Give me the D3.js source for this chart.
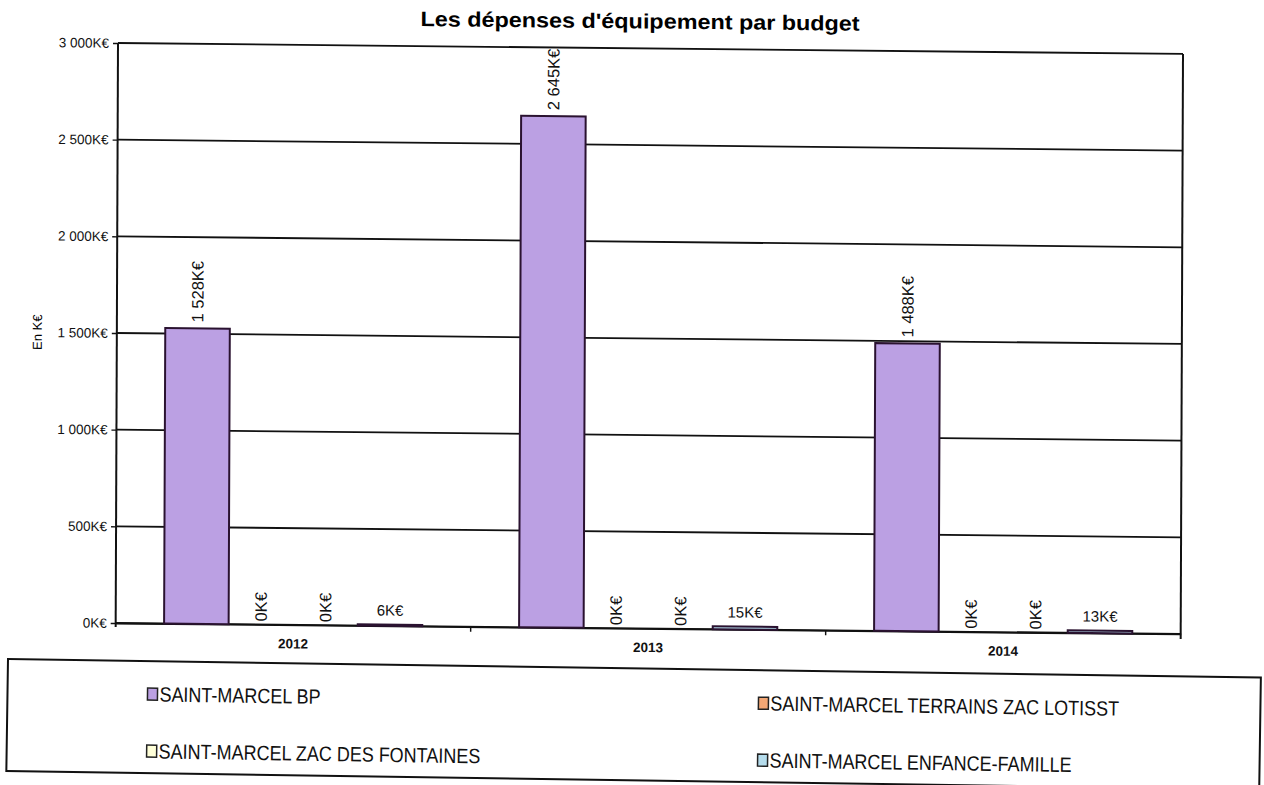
<!DOCTYPE html>
<html>
<head>
<meta charset="utf-8">
<script src="https://cdn.jsdelivr.net/npm/d3@7"></script>
<style>
  html, body { margin: 0; padding: 0; background: #fff; }
  svg { display: block; font-family: "Liberation Sans", Arial, sans-serif; }
</style>
</head>
<body>
<svg id="chart" width="1264" height="785"></svg>
<script>
// Dépenses d'équipement (K€) par budget et par exercice
const years = ["2012", "2013", "2014"];
const budgets = [
  "SAINT-MARCEL BP",
  "SAINT-MARCEL TERRAINS ZAC LOTISST",
  "SAINT-MARCEL ZAC DES FONTAINES",
  "SAINT-MARCEL ENFANCE-FAMILLE"
];
const valuesBP        = [1528, 2645, 1488];
const valuesTerrains  = [0, 0, 0];
const valuesFontaines = [0, 0, 0];
const valuesEnfance   = [6, 15, 13];
const yTicks = [0, 500, 1000, 1500, 2000, 2500, 3000];

const seriesValues = [valuesBP, valuesTerrains, valuesFontaines, valuesEnfance];
const fills = ["#bba0e3", "#f3a775", "#ffffd8", "#b5dcec"];
// labels of the last series are written horizontally, the others vertically
const labelVertical = [true, true, true, false];

const fr = d3.formatLocale({ decimal: ",", thousands: "\u00a0", grouping: [3], currency: ["", "€"] });
const fmt = v => fr.format(",.0f")(v) + "K€";

const rows = years.map((yr, i) => ({
  year: yr,
  bars: budgets.map((b, j) => ({ budget: b, idx: j, value: seriesValues[j][i] }))
}));

const svg = d3.select("#chart");
svg.append("rect").attr("width", 1264).attr("height", 785).attr("fill", "#fff");

const plotLeft = 118, plotRight = 1183, plotTop = 43, plotBottom = 623;
// the printed page sits slightly askew: horizontals drop to the right, verticals lean a little
const slopeY = 0.0103, slopeX = -0.004;
const main = svg.append("g")
  .attr("transform", `matrix(1 ${slopeY} ${slopeX} 1 ${-slopeX * plotTop} ${-slopeY * plotLeft})`);

const x0 = d3.scaleBand().domain(years).range([plotLeft, plotRight]).paddingInner(0).paddingOuter(0);
const x1 = d3.scaleBand().domain(d3.range(budgets.length)).range([0, x0.bandwidth()])
  .paddingInner(0).paddingOuter(0.75);
const y = d3.scaleLinear().domain([0, 3000]).range([plotBottom, plotTop]);

// title
main.append("text")
  .attr("text-anchor", "middle")
  .attr("font-weight", "bold").attr("font-size", 19)
  .attr("transform", "translate(640,23) scale(1.23,1.1)")
  .text("Les dépenses d'équipement par budget");

// axis title
main.append("text")
  .attr("transform", `translate(43,${(plotTop + plotBottom) / 2}) rotate(-90)`)
  .attr("text-anchor", "middle")
  .attr("font-size", 13)
  .text("En K€");

// gridlines
main.append("g").selectAll("line").data(yTicks).join("line")
  .attr("x1", plotLeft).attr("x2", plotRight)
  .attr("y1", d => y(d)).attr("y2", d => y(d))
  .attr("stroke", "#111").attr("stroke-width", 1.8);

// right border
main.append("line")
  .attr("x1", plotRight).attr("x2", plotRight).attr("y1", plotTop).attr("y2", plotBottom + 5)
  .attr("stroke", "#111").attr("stroke-width", 2);

// y axis
const yAxis = main.append("g")
  .attr("transform", `translate(${plotLeft},0)`)
  .call(d3.axisLeft(y).tickValues(yTicks).tickFormat(fmt).tickSize(5).tickPadding(4));
yAxis.select(".domain").remove();
yAxis.selectAll(".tick line").attr("stroke", "#111").attr("stroke-width", 1.4);
yAxis.selectAll(".tick text").attr("font-size", 13.5).attr("fill", "#111")
  .attr("font-family", "'Liberation Sans', Arial, sans-serif");
main.append("line")
  .attr("x1", plotLeft).attr("x2", plotLeft).attr("y1", plotTop).attr("y2", plotBottom + 4)
  .attr("stroke", "#111").attr("stroke-width", 2);

// x axis
const xAxis = main.append("g")
  .attr("transform", `translate(0,${plotBottom})`)
  .call(d3.axisBottom(x0).tickSize(0).tickPadding(14));
xAxis.select(".domain").attr("stroke", "#111").attr("stroke-width", 1.8);
xAxis.selectAll(".tick text").attr("font-size", 13.5).attr("font-weight", "bold").attr("fill", "#111")
  .attr("font-family", "'Liberation Sans', Arial, sans-serif");
main.append("g").selectAll("line").data(years.slice(1)).join("line")
  .attr("x1", d => x0(d)).attr("x2", d => x0(d))
  .attr("y1", plotBottom).attr("y2", plotBottom + 5)
  .attr("stroke", "#111").attr("stroke-width", 1.4);

// bars
const groups = main.append("g").selectAll("g").data(rows).join("g")
  .attr("transform", d => `translate(${x0(d.year)},0)`);

groups.selectAll("rect").data(d => d.bars).join("rect")
  .attr("x", d => x1(d.idx))
  .attr("width", x1.bandwidth())
  .attr("y", d => y(d.value))
  .attr("height", d => y(0) - y(d.value))
  .attr("fill", d => fills[d.idx])
  .attr("stroke", d => d.value > 0 ? "#2a1230" : "none")
  .attr("stroke-width", 2);

// value labels
groups.selectAll("text.val").data(d => d.bars).join("text")
  .attr("class", "val")
  .attr("fill", "#111")
  .each(function (d) {
    const cx = x1(d.idx) + x1.bandwidth() / 2;
    const t = d3.select(this).text(fmt(d.value));
    if (labelVertical[d.idx]) {
      const gap = d.value > 0 ? 6 : 3;
      t.attr("font-size", 16.5)
        .attr("transform", `translate(${cx},${y(d.value) - gap}) rotate(-90)`)
        .attr("text-anchor", "start").attr("dy", "0.35em");
    } else {
      t.attr("font-size", 15)
        .attr("x", cx).attr("y", y(d.value) - 9).attr("text-anchor", "middle");
    }
  });

// legend
const lg = svg.append("g").attr("transform", "translate(8,659) rotate(0.85)");
lg.append("rect")
  .attr("x", 0).attr("y", 0).attr("width", 1253).attr("height", 112)
  .attr("fill", "none").attr("stroke", "#111").attr("stroke-width", 2);

const legendPos = [[140, 33], [751, 33], [140, 90], [751, 90]];
const legendOrder = [0, 1, 2, 3];
const items = lg.selectAll("g.item").data(legendOrder).join("g")
  .attr("class", "item")
  .attr("transform", (d, i) => `translate(${legendPos[i][0]},${legendPos[i][1]})`);
items.append("rect")
  .attr("x", 0).attr("y", -6).attr("width", 10).attr("height", 12)
  .attr("fill", d => fills[d]).attr("stroke", "#222").attr("stroke-width", 1.5);
items.append("text")
  .attr("transform", "translate(12,0) scale(1,1.15)")
  .attr("dy", "0.35em")
  .attr("font-size", 18).attr("fill", "#111")
  .text(d => budgets[d]);
</script>
</body>
</html>
